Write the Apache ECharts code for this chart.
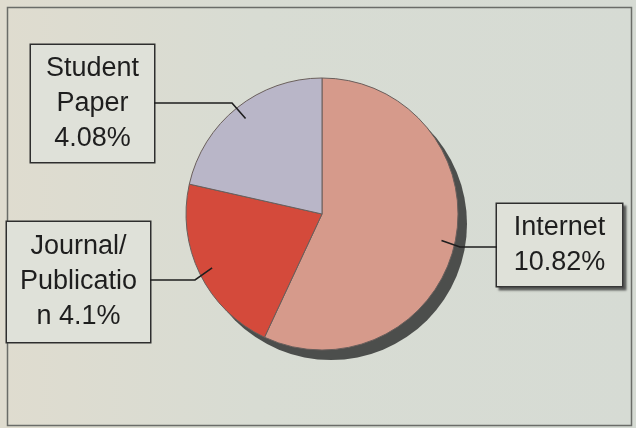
<!DOCTYPE html>
<html>
<head>
<meta charset="utf-8">
<script src="https://cdn.jsdelivr.net/npm/echarts@6/dist/echarts.min.js"></script>
<style>
html,body{margin:0;padding:0;background:#d9ddd4;}
#chart{width:636px;height:428px;}
</style>
</head>
<body>
<div id="chart"></div>
<script>
// ---- data ----
var categories = ['Internet', 'Journal/Publication', 'Student Paper'];
var labelTexts = ['Internet\n10.82%', 'Journal/\nPublicatio\nn 4.1%', 'Student\nPaper\n4.08%'];
var values = [10.82, 4.1, 4.08];
var colors = ['#d69a8b', '#d44a3b', '#b9b6c8'];

// ---- layout (styles/positions) ----
var CX = 322, CY = 214, R = 136;
var boxCenters = [[559.5, 245], [78.5, 282], [92.5, 103.5]];
var boxSizes = [[113, 70], [131, 108], [111, 105]];
var elbows = [[[460, 247], [497, 247]], [[195, 280], [150, 280]], [[232, 103], [154, 103]]];

var total = values.reduce(function(a, b){ return a + b; }, 0);
function midAngle(i) {
  var acc = 0;
  for (var k = 0; k < i; k++) acc += values[k];
  return (acc + values[i] / 2) / total * 2 * Math.PI; // clockwise from top
}

var leaderLines = values.map(function(v, i){
  var a = midAngle(i);
  var inner = [CX + 0.9 * R * Math.sin(a), CY - 0.9 * R * Math.cos(a)];
  return {
    type: 'polyline', z: 20, silent: true,
    shape: {points: [inner, elbows[i][0], elbows[i][1]]},
    style: {stroke: '#1e1e1e', lineWidth: 1.6, fill: null}
  };
});

var chart = echarts.init(document.getElementById('chart'));
var data = values.map(function(v, i){
  return {
    name: categories[i],
    value: v,
    itemStyle: {color: colors[i]},
    label: {
      formatter: labelTexts[i],
      width: boxSizes[i][0],
      height: boxSizes[i][1],
      shadowColor: i === 0 ? 'rgba(60,60,60,0.7)' : 'transparent',
      shadowOffsetX: i === 0 ? 3 : 0,
      shadowOffsetY: i === 0 ? 3 : 0,
      shadowBlur: i === 0 ? 2 : 0
    }
  };
});

chart.setOption({
  backgroundColor: {
    type: 'linear', x: 0, y: 0, x2: 1, y2: 0,
    colorStops: [{offset: 0, color: '#dfdccf'}, {offset: 0.4, color: '#d8dcd3'}, {offset: 1, color: '#d6dbd4'}]
  },
  graphic: [{
    type: 'rect', z: 0,
    shape: {x: 7.5, y: 7.5, width: 624, height: 418},
    style: {fill: 'none', stroke: '#6a6c68', lineWidth: 1.5}
  }].concat(leaderLines),
  series: [{
    type: 'pie',
    silent: true,
    center: [CX + 9, CY + 10],
    radius: R,
    z: 1,
    label: {show: false},
    labelLine: {show: false},
    itemStyle: {color: '#4c4e4c'},
    data: [{name: 'shadow', value: total}],
    animation: false
  }, {
    type: 'pie',
    center: [CX, CY],
    radius: R,
    z: 2,
    startAngle: 90,
    clockwise: true,
    animation: false,
    itemStyle: {borderColor: '#6a5f5c', borderWidth: 1},
    label: {
      show: true,
      position: 'outside',
      fontFamily: 'Liberation Sans',
      fontSize: 27,
      lineHeight: 35,
      color: '#1e1e1e',
      align: 'center',
      verticalAlign: 'middle',
      backgroundColor: '#dfe1d9',
      borderColor: '#2e2e2e',
      borderWidth: 1.5,
      padding: [6, 6, 6, 6]
    },
    labelLine: {show: false},
    labelLayout: function(params) {
      var i = params.dataIndex;
      return {
        x: boxCenters[i][0],
        y: boxCenters[i][1],
        align: 'center',
        verticalAlign: 'middle'
      };
    },
    data: data
  }]
});
</script>
</body>
</html>
